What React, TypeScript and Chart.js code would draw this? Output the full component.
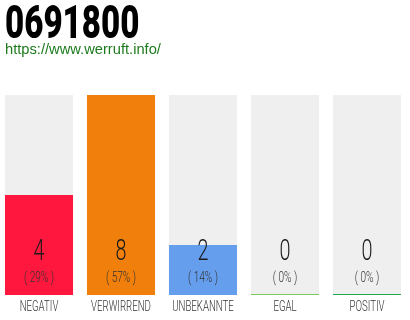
import React, { useEffect, useRef } from "react";
import { Chart, registerables } from "chart.js";

Chart.register(...registerables);

const title = "0691800";
const url = "https://www.werruft.info/";
const categories = ["NEGATIV", "VERWIRREND", "UNBEKANNTE", "EGAL", "POSITIV"];
const counts = [4, 8, 2, 0, 0];
const percents = ["( 29% )", "( 57% )", "( 14% )", "( 0% )", "( 0% )"];
const barColors = ["#ff173d", "#f17f0b", "#669eee", "#7ec860", "#22a84c"];
const maxValue = 8;
const trackValues = categories.map(() => maxValue);

const FONT = "Roboto, 'DejaVu Sans', sans-serif";

function narrowText(ctx: any, text: string, x: number, y: number, sx: number) {
  ctx.save();
  ctx.translate(x, y);
  ctx.scale(sx, 1);
  ctx.fillText(text, 0, 0);
  ctx.restore();
}

const labelPlugin = {
  id: "valueLabels",
  afterDatasetsDraw(chart: any) {
    const ctx = chart.ctx;
    const meta = chart.getDatasetMeta(1);
    const bottom = chart.scales.y.getPixelForValue(0);
    ctx.save();
    ctx.textAlign = "center";
    ctx.textBaseline = "middle";
    meta.data.forEach((bar: any, i: number) => {
      ctx.fillStyle = "#1a1a1a";
      ctx.font = `300 30px ${FONT}`;
      narrowText(ctx, String(counts[i]), bar.x, bottom - 43, 0.66);
      ctx.fillStyle = "#333";
      ctx.font = `300 14px ${FONT}`;
      narrowText(ctx, percents[i], bar.x, bottom - 17, 0.72);
      ctx.fillStyle = "#333";
      ctx.font = `300 14px ${FONT}`;
      narrowText(ctx, categories[i], bar.x, bottom + 12, 0.69);
    });
    ctx.restore();
  },
};

export default function App() {
  const ref = useRef<HTMLCanvasElement>(null);
  useEffect(() => {
    document.body.style.margin = "0";
    const chart = new Chart(ref.current!, {
      type: "bar",
      data: {
        labels: categories,
        datasets: [
          {
            data: trackValues,
            backgroundColor: "#efefef",
            barPercentage: 1,
            categoryPercentage: 0.83,
            grouped: false,
            order: 2,
          },
          {
            data: counts,
            backgroundColor: barColors,
            barPercentage: 1,
            categoryPercentage: 0.83,
            grouped: false,
            minBarLength: 1,
            order: 1,
          },
        ],
      },
      options: {
        animation: false,
        responsive: false,
        maintainAspectRatio: false,
        layout: { padding: { top: 95, bottom: 25, left: 0, right: 0 } },
        plugins: { legend: { display: false }, tooltip: { enabled: false } },
        scales: {
          x: { display: false },
          y: { display: false, min: 0, max: maxValue },
        },
      },
      plugins: [labelPlugin],
    } as any);
    return () => chart.destroy();
  }, []);

  return (
    <div style={{ position: "relative", width: 410, height: 320, overflow: "hidden", background: "#fff" }}>
      <canvas
        ref={ref}
        width={410}
        height={320}
        style={{ position: "absolute", left: -2, top: 0, width: 410, height: 320 }}
      />
      <div
        style={{
          position: "absolute",
          left: 5,
          top: -3,
          fontFamily: FONT,
          fontWeight: 900,
          fontSize: 46,
          lineHeight: "50px",
          color: "#000",
          transform: "scaleX(0.72)",
          transformOrigin: "0 0",
          whiteSpace: "nowrap",
        }}
      >
        {title}
      </div>
      <div
        style={{
          position: "absolute",
          left: 5,
          top: 40,
          fontFamily: "'Liberation Sans', Arial, sans-serif",
          fontSize: 14.7,
          lineHeight: "18px",
          color: "#1e7a1e",
          whiteSpace: "nowrap",
        }}
      >
        {url}
      </div>
    </div>
  );
}
